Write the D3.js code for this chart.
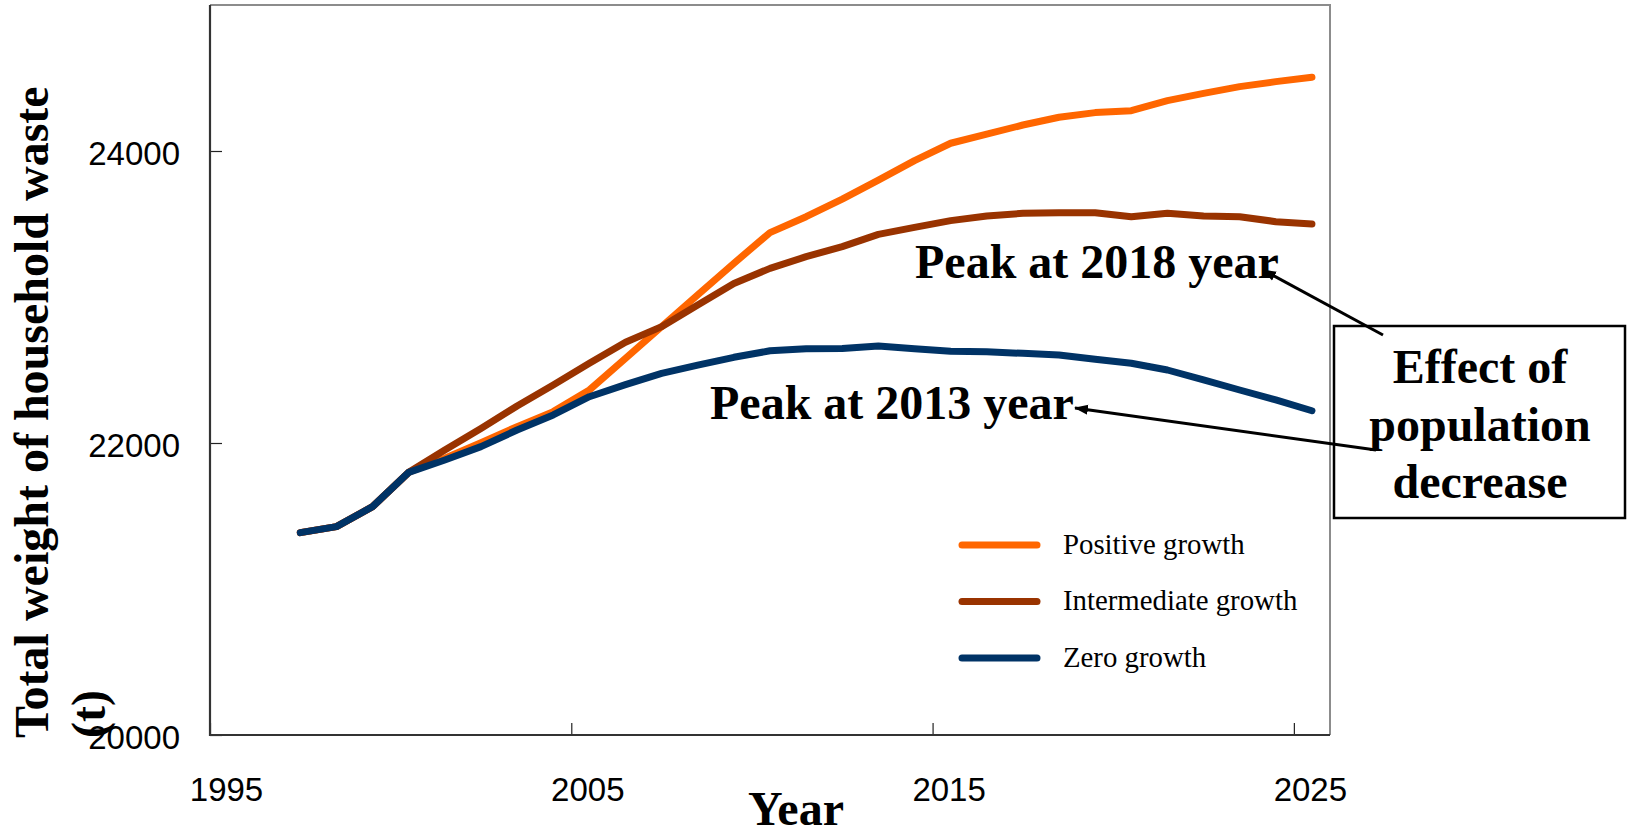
<!DOCTYPE html>
<meta charset="utf-8">
<style>

body {
  margin: 0;
  background: #fff;
}

svg {
  display: block;
}

.axis text {
  font-family: "Liberation Sans", Arial, sans-serif;
  font-size: 33px;
  fill: #000;
}

.axis line {
  stroke: #222;
  stroke-width: 1.2;
}

.title {
  font-family: "Liberation Serif", "Times New Roman", serif;
  font-weight: bold;
  font-size: 48px;
  fill: #000;
}

.legend text {
  font-family: "Liberation Serif", "Times New Roman", serif;
  font-size: 28.8px;
  fill: #000;
}

.series {
  fill: none;
  stroke-width: 7;
  stroke-linejoin: round;
  stroke-linecap: round;
}

</style>
<svg width="1631" height="834"></svg>
<script src="https://d3js.org/d3.v7.min.js"></script>

<script>

// data (t), one value per year, plotted at mid-year
var years = [1997, 1998, 1999, 2000, 2001, 2002, 2003, 2004, 2005, 2006,
             2007, 2008, 2009, 2010, 2011, 2012, 2013, 2014, 2015, 2016,
             2017, 2018, 2019, 2020, 2021, 2022, 2023, 2024, 2025];

var positive_growth = [21386, 21427, 21564, 21799, 21895, 22002, 22112, 22215, 22363, 22580,
                       22797, 23014, 23231, 23441, 23550, 23671, 23801, 23934, 24053, 24115,
                       24178, 24231, 24263, 24276, 24345, 24395, 24441, 24475, 24505];

var intermediate_growth = [21386, 21427, 21564, 21799, 21952, 22100, 22253, 22397, 22546, 22690,
                           22797, 22945, 23093, 23196, 23276, 23345, 23429, 23477, 23523, 23555,
                           23573, 23577, 23577, 23550, 23573, 23555, 23550, 23516, 23500];

var zero_growth = [21386, 21427, 21564, 21799, 21884, 21975, 22089, 22192, 22317, 22400,
                   22477, 22534, 22587, 22632, 22646, 22648, 22664, 22646, 22628, 22625,
                   22614, 22603, 22573, 22546, 22500, 22432, 22363, 22295, 22221];

var series_names = ["Positive growth", "Intermediate growth", "Zero growth"];
var series_colors = ["#ff6600", "#993300", "#003366"];

var x_ticks = [1995, 2005, 2015, 2025];
var y_ticks = [20000, 22000, 24000];

var svg = d3.select("svg"),
    width = +svg.attr("width"),
    height = +svg.attr("height");

var plot = {left: 210, right: 1330, top: 5, bottom: 735};

var x = d3.scaleLinear()
    .domain([1995, 2026])
    .range([plot.left, plot.right]);

var y = d3.scaleLinear()
    .domain([20000, 25000])
    .range([plot.bottom, plot.top]);

svg.append("rect")
    .attr("width", width)
    .attr("height", height)
    .attr("fill", "#fff");

// top / right frame is light grey, the two axes are dark
svg.append("path")
    .attr("d", "M" + plot.left + "," + plot.top + "H" + plot.right + "V" + plot.bottom)
    .attr("fill", "none")
    .attr("stroke", "#8c8c8c")
    .attr("stroke-width", 2);

var xAxis = svg.append("g")
    .attr("class", "axis")
    .attr("transform", "translate(0," + plot.bottom + ")")
    .call(d3.axisBottom(x)
      .tickValues(x_ticks)
      .tickSize(-12)
      .tickSizeOuter(0)
      .tickFormat(d3.format("d")));

xAxis.select(".domain").remove();
xAxis.selectAll("text")
    .attr("y", 43)
    .attr("dy", "0.71em")
    .attr("dx", 16);

var yAxis = svg.append("g")
    .attr("class", "axis")
    .attr("transform", "translate(" + plot.left + ",0)")
    .call(d3.axisLeft(y)
      .tickValues(y_ticks)
      .tickSize(-12)
      .tickSizeOuter(0)
      .tickFormat(d3.format("d")));

yAxis.select(".domain").remove();
yAxis.selectAll("text")
    .attr("x", -30)
    .attr("dy", "0.4em");

svg.append("path")
    .attr("d", "M" + plot.left + "," + plot.top + "V" + plot.bottom + "H" + plot.right)
    .attr("fill", "none")
    .attr("stroke", "#333")
    .attr("stroke-width", 2.2);

// series lines
var all_series = [positive_growth, intermediate_growth, zero_growth];

var line = d3.line()
    .x(function(d) { return x(d.year + 0.5); })
    .y(function(d) { return y(d.value); });

svg.append("g")
  .selectAll("path")
  .data(all_series)
  .enter().append("path")
    .attr("class", "series")
    .attr("stroke", function(d, i) { return series_colors[i]; })
    .attr("d", function(values) {
      return line(values.map(function(v, j) { return {year: years[j], value: v}; }));
    });

// legend
var legend = svg.append("g")
    .attr("class", "legend")
  .selectAll("g")
  .data(series_names)
  .enter().append("g")
    .attr("transform", function(d, i) { return "translate(962," + (545 + i * 56.5) + ")"; });

legend.append("line")
    .attr("x2", 75)
    .attr("stroke", function(d, i) { return series_colors[i]; })
    .attr("stroke-width", 7)
    .attr("stroke-linecap", "round");

legend.append("text")
    .attr("x", 101)
    .attr("dy", "0.3em")
    .text(function(d) { return d; });

// axis titles
svg.append("text")
    .attr("class", "title")
    .attr("x", 796)
    .attr("y", 825)
    .attr("text-anchor", "middle")
    .text("Year");

var ytitle = svg.append("text")
    .attr("class", "title")
    .attr("transform", "translate(48,738) rotate(-90)");

ytitle.append("tspan").attr("x", 0).attr("y", 0).text("Total weight of household waste");
ytitle.append("tspan").attr("x", 0).attr("y", 57).text("(t)");

// annotations
var defs = svg.append("defs");
defs.append("marker")
    .attr("id", "head")
    .attr("markerUnits", "userSpaceOnUse")
    .attr("viewBox", "0 -6 14 12")
    .attr("refX", 13)
    .attr("refY", 0)
    .attr("markerWidth", 14)
    .attr("markerHeight", 12)
    .attr("orient", "auto")
  .append("path")
    .attr("d", "M0,-5L14,0L0,5Z")
    .attr("fill", "#000");

var peaks = [
  {text: "Peak at 2018 year", x: 915, y: 278},
  {text: "Peak at 2013 year", x: 710, y: 419}
];

svg.append("g")
  .selectAll("text")
  .data(peaks)
  .enter().append("text")
    .attr("class", "title")
    .attr("x", function(d) { return d.x; })
    .attr("y", function(d) { return d.y; })
    .text(function(d) { return d.text; });

var box = svg.append("g");

box.append("rect")
    .attr("x", 1334)
    .attr("y", 326)
    .attr("width", 291)
    .attr("height", 192)
    .attr("fill", "#fff")
    .attr("stroke", "#000")
    .attr("stroke-width", 2.5);

box.selectAll("text")
  .data(["Effect of", "population", "decrease"])
  .enter().append("text")
    .attr("class", "title")
    .attr("x", 1480)
    .attr("y", function(d, i) { return 383 + i * 57.5; })
    .attr("text-anchor", "middle")
    .text(function(d) { return d; });

// arrows start just inside the box and are drawn over it
var arrows = [
  {x1: 1383, y1: 335, x2: 1263, y2: 270},
  {x1: 1376, y1: 450, x2: 1075, y2: 408}
];

svg.append("g")
  .selectAll("line")
  .data(arrows)
  .enter().append("line")
    .attr("x1", function(d) { return d.x1; })
    .attr("y1", function(d) { return d.y1; })
    .attr("x2", function(d) { return d.x2; })
    .attr("y2", function(d) { return d.y2; })
    .attr("stroke", "#000")
    .attr("stroke-width", 3)
    .attr("marker-end", "url(#head)");

</script>
